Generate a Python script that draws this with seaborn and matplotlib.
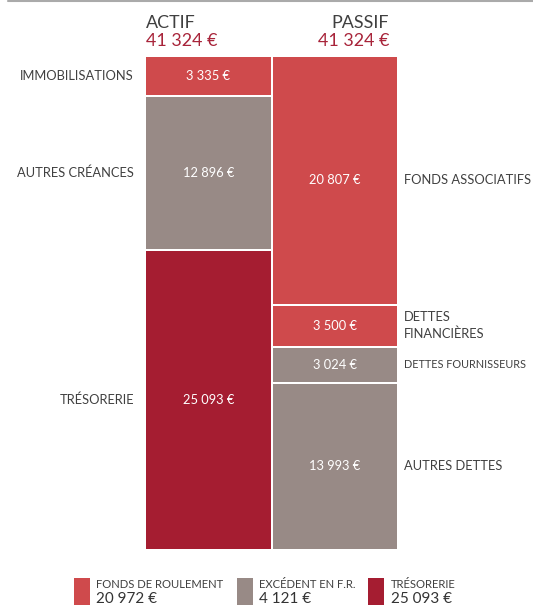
import matplotlib
matplotlib.use("Agg")
import matplotlib.pyplot as plt
import seaborn as sns
import pandas as pd
from matplotlib.patches import Rectangle
from matplotlib.lines import Line2D

# ---- data ----
actif_labels = ["IMMOBILISATIONS", "AUTRES CRÉANCES", "TRÉSORERIE"]
actif_values = [3335, 12896, 25093]
actif_kinds = ["fr", "exc", "treso"]

passif_labels = ["FONDS ASSOCIATIFS", "DETTES\nFINANCIÈRES", "DETTES FOURNISSEURS", "AUTRES DETTES"]
passif_values = [20807, 3500, 3024, 13993]
passif_kinds = ["fr", "fr", "exc", "exc"]

columns = ["ACTIF", "PASSIF"]
totals = [41324, 41324]

legend_labels = ["FONDS DE ROULEMENT", "EXCÉDENT EN F.R.", "TRÉSORERIE"]
legend_values = [20972, 4121, 25093]
legend_kinds = ["fr", "exc", "treso"]

colors = {"fr": "#CF4A4C", "exc": "#988A86", "treso": "#A51D31"}
TXT = "#404040"
RED_TXT = "#A8243A"


def euro(v):
    return f"{v:,}".replace(",", " ") + " €"


sns.set_theme(style="white")
plt.rcParams["font.family"] = ["Lato", "DejaVu Sans"]

W, H = 533, 605
fig = plt.figure(figsize=(W / 100, H / 100), dpi=100)
ax_l, ax_r, ax_t, ax_b = 145, 398, 56, 550
ax = fig.add_axes([ax_l / W, 1 - ax_b / H, (ax_r - ax_l) / W, (ax_b - ax_t) / H])

rows = []
for col, labels, values, kinds in [
    ("ACTIF", actif_labels, actif_values, actif_kinds),
    ("PASSIF", passif_labels, passif_values, passif_kinds),
]:
    cum = 0
    for lab, v, k in zip(labels, values, kinds):
        rows.append(dict(col=col, label=lab, value=v, bottom=cum, kind=k))
        cum += v
df = pd.DataFrame(rows)

for _, r in df.iterrows():
    sns.barplot(x=[r["col"]], y=[r["value"]], order=columns, bottom=r["bottom"],
                color=colors[r["kind"]], saturation=1, width=1.0,
                edgecolor="white", linewidth=1.44, errorbar=None, ax=ax)

ax.set_xlim(-0.5, 1.5)
ax.set_ylim(totals[0], 0)
ax.axis("off")

FS = 9.3
small = {"DETTES FOURNISSEURS": 7.8}
# in-bar values and side labels
for _, r in df.iterrows():
    xi = columns.index(r["col"])
    yc = r["bottom"] + r["value"] / 2
    ax.text(xi, yc, euro(r["value"]), color="white", ha="center", va="center", fontsize=FS)
    fs = small.get(r["label"], FS)
    if r["col"] == "ACTIF":
        ax.annotate(r["label"], xy=(134, yc), xycoords=("figure pixels", "data"),
                    ha="right", va="center", fontsize=fs, color=TXT)
    else:
        ax.annotate(r["label"], xy=(404, yc), xycoords=("figure pixels", "data"),
                    ha="left", va="center", fontsize=fs, color=TXT, linespacing=1.4)

# headers
HF = 12.9
fig.text(146 / W, 1 - 28.5 / H, columns[0], fontsize=HF, color=TXT, ha="left", va="baseline")
fig.text(146 / W, 1 - 46.5 / H, euro(totals[0]), fontsize=HF, color=RED_TXT, ha="left", va="baseline")
fig.text(389 / W, 1 - 28.5 / H, columns[1], fontsize=HF, color=TXT, ha="right", va="baseline")
fig.text(389 / W, 1 - 46.5 / H, euro(totals[1]), fontsize=HF, color=RED_TXT, ha="right", va="baseline")

# top rule
fig.add_artist(Line2D([8 / W, 1], [1 - 0.5 / H, 1 - 0.5 / H], color="#AAAAAA", lw=1.5,
                      transform=fig.transFigure))

# legend
sq_x = [74, 237, 368]
tx_x = [96, 259, 391]
for sx, tx, lab, v, k in zip(sq_x, tx_x, legend_labels, legend_values, legend_kinds):
    fig.add_artist(Rectangle((sx / W, 0), 15.5 / W, 27 / H, transform=fig.transFigure,
                             facecolor=colors[k], edgecolor="none"))
    fig.text(tx / W, 1 - 588 / H, lab, fontsize=8.1, color=TXT, ha="left", va="baseline")
    fig.text(tx / W, 1 - 603 / H, euro(v), fontsize=11.0, color="#333333", ha="left", va="baseline")

fig.savefig("out.png", dpi=100)
